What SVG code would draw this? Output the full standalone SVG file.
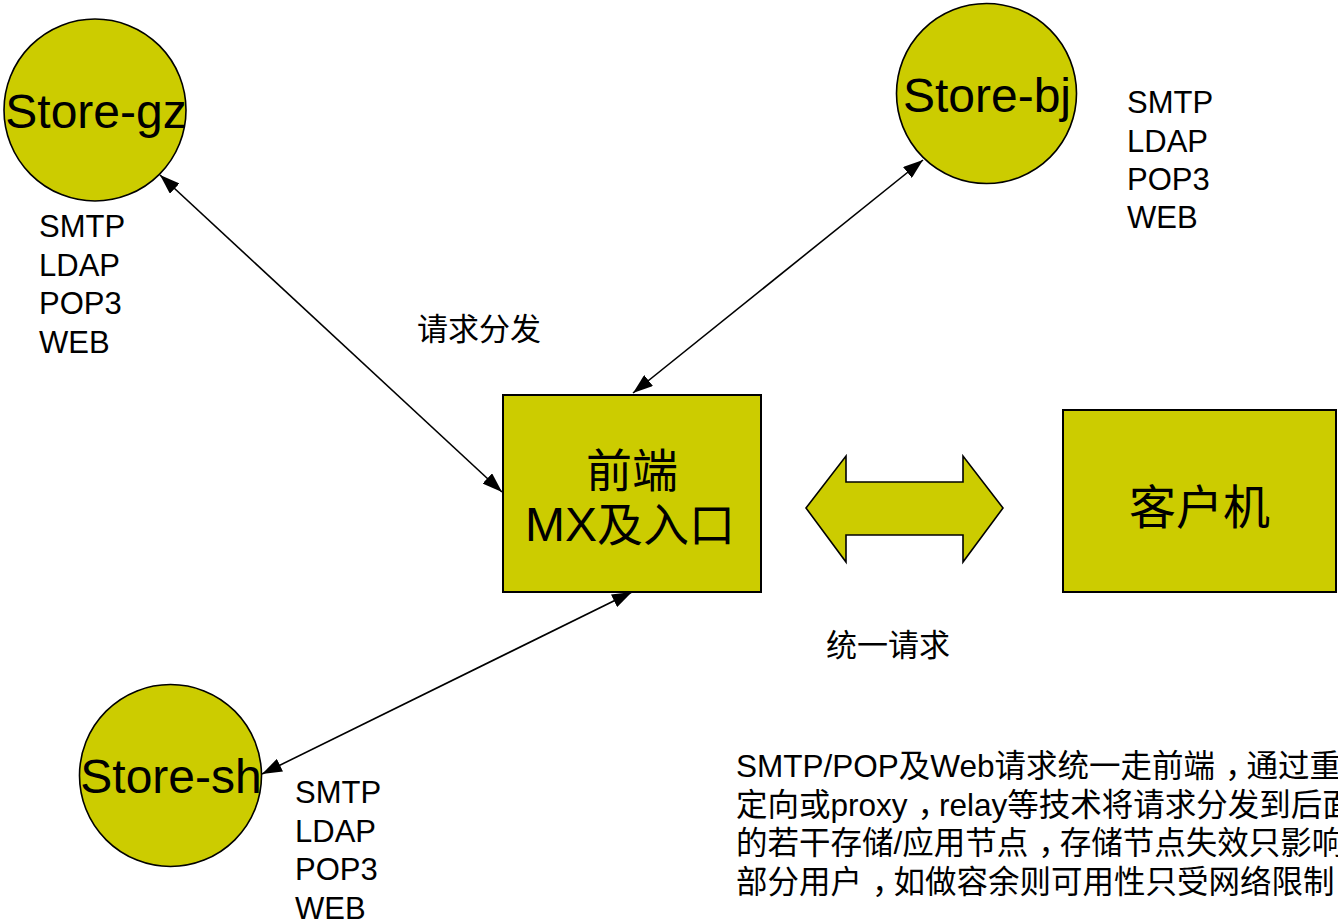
<svg xmlns="http://www.w3.org/2000/svg" width="1338" height="922" viewBox="0 0 1338 922">
<style>
text{font-family:"Liberation Sans","Noto Sans CJK SC",sans-serif;fill:#000}
.shape{fill:#CCCC00;stroke:#000;stroke-width:1.6}
.box{fill:#CCCC00;stroke:#000;stroke-width:2}
.store{font-size:48px;text-anchor:middle}
.list{font-size:31px}
.lbl{font-size:31px}
.para{font-size:31.5px}
.conn{stroke:#000;stroke-width:1.6;fill:none;marker-start:url(#ah);marker-end:url(#ah)}
</style>
<defs>
<marker id="ah" viewBox="0 0 20 14" refX="20" refY="7" markerWidth="20" markerHeight="14" markerUnits="userSpaceOnUse" orient="auto-start-reverse">
<path d="M0,0 L20,7 L0,14 Z" fill="#000"/>
</marker>
</defs>
<rect width="1338" height="922" fill="#fff"/>
<g id="connectors">
<line class="conn" x1="160" y1="175" x2="502" y2="492"/>
<line class="conn" x1="923" y1="160" x2="633" y2="393"/>
<line class="conn" x1="262" y1="774" x2="632" y2="592"/>
</g>
<g id="store-gz">
<circle class="shape" cx="95" cy="110" r="91"/>
<text class="store" x="96" y="128">Store-gz</text>
<text class="list" x="39"><tspan x="39" y="237">SMTP</tspan><tspan x="39" y="275.5">LDAP</tspan><tspan x="39" y="314">POP3</tspan><tspan x="39" y="352.5">WEB</tspan></text>
</g>
<g id="store-bj">
<circle class="shape" cx="986.5" cy="93.5" r="90"/>
<text class="store" x="987" y="112">Store-bj</text>
<text class="list" x="1127"><tspan x="1127" y="113">SMTP</tspan><tspan x="1127" y="152">LDAP</tspan><tspan x="1127" y="190">POP3</tspan><tspan x="1127" y="228">WEB</tspan></text>
</g>
<g id="store-sh">
<circle class="shape" cx="170.5" cy="775.5" r="91"/>
<text class="store" x="171" y="793">Store-sh</text>
<text class="list" x="295"><tspan x="295" y="803">SMTP</tspan><tspan x="295" y="841.5">LDAP</tspan><tspan x="295" y="880">POP3</tspan><tspan x="295" y="918.5">WEB</tspan></text>
</g>
<g id="frontend">
<rect class="box" x="503" y="395" width="258" height="197"/>
<text x="632" y="487" style="font-size:46px;text-anchor:middle">前端</text>
<text x="630" y="541" style="font-size:48px;text-anchor:middle">MX<tspan style="font-size:46px">及入口</tspan></text>
</g>
<g id="client">
<rect class="box" x="1063" y="410" width="273" height="182"/>
<text x="1199.5" y="524" style="font-size:47px;text-anchor:middle">客户机</text>
</g>
<g id="link-arrow">
<polygon class="shape" points="806,508 846,456 846,482 963,482 963,456 1003,508 963,562 963,535 846,535 846,562"/>
</g>
<g id="labels">
<text class="lbl" x="417" y="340">请求分发</text>
<text class="lbl" x="826" y="656">统一请求</text>
</g>
<g id="note">
<text class="para" x="736" y="777">SMTP/POP及Web请求统一走前端<tspan dx="10">，</tspan><tspan dx="-10">通过重</tspan></text>
<text class="para" x="736" y="815.5">定向或proxy<tspan dx="10">，</tspan><tspan dx="-10">relay等技术将请求分发到后面</tspan></text>
<text class="para" x="736" y="854">的若干存储/应用节点<tspan dx="10">，</tspan><tspan dx="-10">存储节点失效只影响</tspan></text>
<text class="para" x="736" y="892.5">部分用户<tspan dx="10">，</tspan><tspan dx="-10">如做容余则可用性只受网络限制</tspan></text>
</g>
</svg>
